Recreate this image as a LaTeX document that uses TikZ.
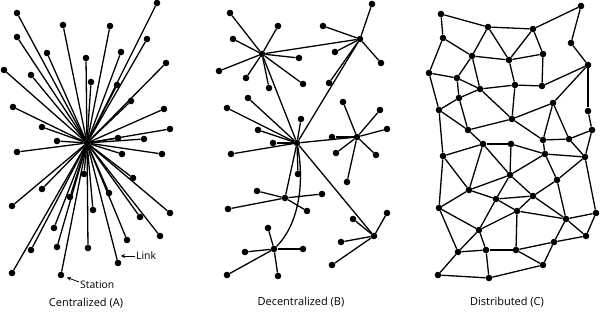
\documentclass[tikz,border=0pt]{standalone}
\usepackage{fontspec}
\setsansfont{Open Sans}
\usetikzlibrary{arrows.meta}

\begin{document}
\begin{tikzpicture}[
  x=1pt, y=-1pt,
  font=\sffamily,
  stn/.style={circle, fill=black, inner sep=0pt, minimum size=6.6pt},
  lnk/.style={line width=1.3pt},
  captxt/.style={font=\sffamily\fontsize{11}{13}\selectfont},
  tag/.style={font=\sffamily\fontsize{10.4}{12}\selectfont, inner sep=1pt},
  ptr/.style={-{Stealth[length=4pt, width=4pt]}, line width=0.8pt},
]
\useasboundingbox (0,0) rectangle (600,318);

% ===== A) Centralized ======================================================
\node[stn] (chub) at (87,143) {};
\foreach \x/\y [count=\i] in {17/13, 157/3, 63/25, 110/26, 17/37, 147/39, 47/53, 121/52,
    86/58, 166/63, 4/70, 31/75, 91/82, 117/85, 131/101, 13/107, 164/109, 42/127,
    170/129, 118/138, 144/139, 57/141, 17/152, 122/154, 162/154, 133/178, 42/189,
    84/174, 70/197, 109/193, 12/206, 170/213, 93/210, 140/217, 54/228, 160/236,
    127/240, 31/250, 57/247, 88/248, 118/263, 12/273, 61/275}
{
  \node[stn] (ca\i) at (\x,\y) {};
  \draw[lnk] (chub) -- (ca\i);
}

\node[tag, anchor=west] (linkT) at (135,256) {Link};
\coordinate (linkP) at (121,256);
\draw[ptr] (linkT.west) -- (linkP);
\node[tag, anchor=west] (stnT) at (79,285) {Station};
\coordinate (stnP) at (67,277.5);
\draw[ptr] ([yshift=3pt]stnT.west) -- (stnP);

\node[captxt] (capA) at (86,303) {Centralized (A)};

% ===== B) Decentralized ====================================================
\node[stn] (db1) at (262,54) {};
\node[stn] (db2) at (360,39) {};
\node[stn] (db3) at (297,143) {};
\node[stn] (db4) at (357,137) {};
\node[stn] (db5) at (285,198) {};
\node[stn] (db6) at (274,249) {};
\node[stn] (db7) at (374,236) {};

\draw[lnk] (db1) -- (db2);
\draw[lnk] (db1) -- (db3);
\draw[lnk] (db2) -- (db3);
\draw[lnk] (db3) -- (db4);
\draw[lnk] (db3) -- (db5);
\draw[lnk] (db3) -- (db7);
\draw[lnk] (db3) .. controls (305,185) and (298,225) .. (db6);

\foreach \h/\pts in {
    db1/{230/13, 278/26, 233/39, 299/58, 219/71, 246/78, 269/88, 303/84},
    db2/{372/4, 323/26, 335/52, 381/63, 329/83},
    db3/{248/98, 227/108, 301/119, 258/130, 273/143, 231/154, 298/174},
    db4/{343/102, 380/110, 387/129, 332/137, 336/153, 376/155, 347/182},
    db5/{257/191, 322/194, 228/209, 307/211},
    db6/{268/228, 245/252, 303/249, 227/275, 278/276},
    db7/{353/219, 387/213, 341/242, 332/265}}
{
  \foreach \x/\y [count=\j] in \pts {
    \node[stn] (\h l\j) at (\x,\y) {};
    \draw[lnk] (\h) -- (\h l\j);
  }
}

\node[captxt] (capB) at (301,302) {Decentralized (B)};

% ===== C) Distributed ======================================================
\foreach \x/\y [count=\i] in {441/14, 581/6, 488/27, 533/29, 443/38, 571/43, 472/56,
    543/54, 509/60, 588/65, 429/73, 457/78, 480/89, 515/85, 542/86, 459/98,
    553/103, 439/110, 588/111, 512/119, 468/130, 592/130, 483/144, 511/144,
    543/140, 569/139, 443/156, 545/154, 585/157, 510/175, 557/180, 469/190,
    496/199, 533/196, 439/208, 517/211, 566/219, 596/213, 479/230, 586/236,
    554/242, 458/252, 486/250, 516/250, 543/265, 438/275, 489/278}
  \node[stn] (n\i) at (\x,\y) {};

\foreach \a/\b in {1/3, 1/5, 3/4, 4/2, 2/6, 6/10, 4/8, 3/7, 3/9, 4/9, 5/7, 5/11,
    7/9, 7/12, 7/13, 9/14, 8/9, 8/15, 11/12, 11/18, 12/13, 12/16, 13/16, 13/14,
    14/15, 15/10, 10/17, 10/19, 13/20, 14/20, 16/18, 16/21, 18/21, 18/27, 20/17,
    20/21, 20/25, 17/25, 17/26, 19/22, 22/26, 25/26, 24/28, 23/24, 21/23, 27/23,
    23/30, 24/30, 25/28, 22/29, 26/29, 28/29, 30/28, 28/31, 29/31, 29/38, 27/32,
    23/32, 30/32, 32/33, 30/33, 30/34, 33/34, 31/34, 27/35, 35/32, 35/39, 35/42,
    33/39, 33/36, 34/36, 34/37, 36/37, 31/37, 37/38, 37/40, 38/40, 37/41, 41/40,
    41/44, 41/45, 36/39, 36/44, 39/42, 39/43, 42/43, 43/44, 44/45, 42/46, 46/47,
    43/47, 47/45}
  \draw[lnk] (n\a) -- (n\b);

\node[captxt] (capC) at (507,302) {Distributed (C)};

\end{tikzpicture}
\end{document}
